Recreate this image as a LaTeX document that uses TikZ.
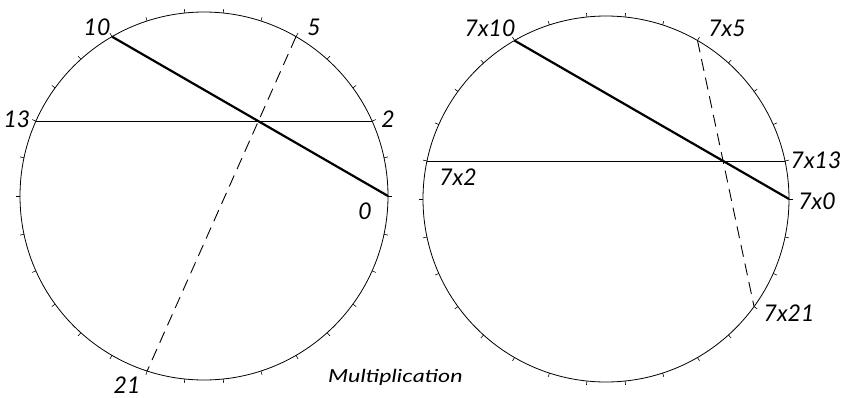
\documentclass[tikz,border=0pt]{standalone}
\usepackage{fontspec}
\setmainfont{Lato}
\usetikzlibrary{calc}
\tikzset{
  rim/.style={line width=0.8pt},
  rimtick/.style={line width=0.6pt},
  thickchord/.style={line width=2.2pt},
  thinchord/.style={line width=0.9pt},
  dashchord/.style={line width=0.9pt, dash pattern=on 12pt off 7pt},
  lbl/.style={font=\itshape\fontsize{23}{23}\selectfont, inner sep=0pt},
  captxt/.style={font=\itshape\fontsize{18}{18}\selectfont, inner sep=0pt, anchor=west}
}
\begin{document}
\begin{tikzpicture}[x=1pt,y=-1pt]
\useasboundingbox (0,0) rectangle (843,397);
% left circle
\coordinate (L) at (204,196);
\draw[rim] (L) circle[radius=184pt];
\foreach \a in {0,12,...,348} \draw[rimtick] (L) ++(\a:184pt) -- ++(\a:4pt);
\coordinate (L0) at ($(L)+(0:184pt)$);
\coordinate (L2) at ($(L)+(24:184pt)$);
\coordinate (L5) at ($(L)+(60:184pt)$);
\coordinate (L10) at ($(L)+(120:184pt)$);
\coordinate (L13) at ($(L)+(156:184pt)$);
\coordinate (L21) at ($(L)+(252:184pt)$);
\draw[thickchord] (L10) -- (L0);
\draw[thinchord] (L13) -- (L2);
\draw[dashchord] (L5) -- (L21);
\node[lbl] (t10) at (97,27) {10};
\node[lbl] (t5) at (314,27) {5};
\node[lbl] (t13) at (17,119) {13};
\node[lbl] (t2) at (388,119) {2};
\node[lbl] (t0) at (365,211) {0};
\node[lbl] (t21) at (127,385) {21};
% right circle
\coordinate (R) at (606,199);
\draw[rim] (R) circle[radius=183pt];
\foreach \a in {0,12,...,348} \draw[rimtick] (R) ++(\a:183pt) -- ++(\a:4pt);
\coordinate (R0) at ($(R)+(0:183pt)$);
\coordinate (R13) at ($(R)+(12:183pt)$);
\coordinate (R5) at ($(R)+(60:183pt)$);
\coordinate (R10) at ($(R)+(120:183pt)$);
\coordinate (R2) at ($(R)+(168:183pt)$);
\coordinate (R21) at ($(R)+(324:183pt)$);
\draw[thickchord] (R10) -- (R0);
\draw[thinchord] (R2) -- (R13);
\draw[dashchord] (R5) -- (R21);
\node[lbl] (s10) at (490,28) {7x10};
\node[lbl] (s5) at (727,28) {7x5};
\node[lbl] (s13) at (816,160) {7x13};
\node[lbl] (s2) at (458,177) {7x2};
\node[lbl] (s0) at (817,201) {7x0};
\node[lbl] (s21) at (789,313) {7x21};
\node[captxt] (title) at (328,377) {\scalebox{1.3}[1]{Multiplication}};
\end{tikzpicture}
\end{document}
